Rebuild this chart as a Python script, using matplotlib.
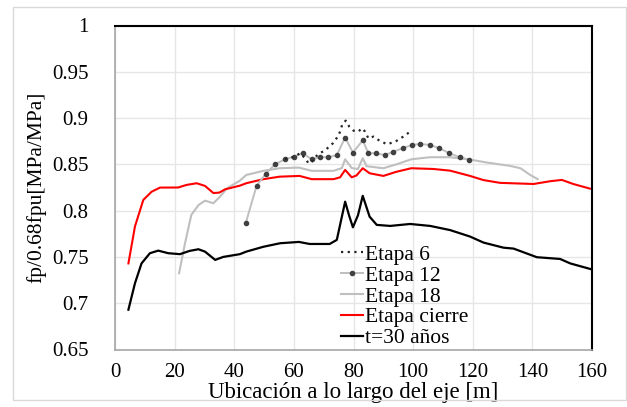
import matplotlib
matplotlib.use("Agg")
import matplotlib.pyplot as plt
from matplotlib.patches import Rectangle

# ---- data ----
x_e6 = [57.0, 60.1, 62.1, 64.1, 64.9, 66.0, 67.0, 68.8, 70.9, 73.1, 75.1, 76.3, 77.4,
        78.6, 80.0, 81.6, 82.8, 83.9, 85.0, 86.7, 88.4, 91.2, 94.0, 96.7, 99.0]
y_e6 = [0.8555, 0.8583, 0.862, 0.8555, 0.851, 0.853, 0.8577, 0.862, 0.8664, 0.8728, 0.8817,
        0.8936, 0.8972, 0.8907, 0.8864, 0.8853, 0.889, 0.8853, 0.878, 0.880, 0.8763, 0.8717,
        0.8745, 0.880, 0.8853]

x_e12 = [43.9, 47.5, 50.6, 53.7, 57.0, 60.1, 62.9, 66.0, 68.8, 71.6, 74.4, 77.2, 79.8,
         83.1, 85.0, 87.6, 90.4, 93.4, 96.5, 99.6, 102.3, 105.7, 108.8, 112.2, 115.6, 118.9]
y_e12 = [0.787, 0.827, 0.840, 0.850, 0.8555, 0.8583, 0.862, 0.8555, 0.8577, 0.8577, 0.860,
         0.879, 0.8627, 0.876, 0.862, 0.862, 0.860, 0.8637, 0.8674, 0.871, 0.872, 0.871,
         0.8674, 0.862, 0.8577, 0.855]

x_e18 = [21.5, 23.5, 25.6, 28.0, 30.2, 33.0, 35.2, 37.5, 41.9, 44.0, 49.8, 55.2, 61.7, 66.0,
         73.3, 76.1, 77.2, 79.4, 81.5, 83.1, 84.4, 90.0, 94.4, 99.4, 105.7, 112.4, 119.0,
         124.7, 132.6, 136.0, 139.3, 141.8]
y_e18 = [0.7324, 0.765, 0.7954, 0.806, 0.8108, 0.808, 0.815, 0.824, 0.8324, 0.8385, 0.843,
         0.8458, 0.8465, 0.843, 0.843, 0.846, 0.8555, 0.846, 0.845, 0.8566, 0.848, 0.8458,
         0.850, 0.8555, 0.8577, 0.8577, 0.8552, 0.852, 0.8483, 0.8458, 0.8385, 0.834]

x_cie = [4.5, 6.7, 9.5, 12.3, 15.1, 21.2, 24.0, 27.4, 30.2, 33.0, 35.0, 36.9, 41.9, 44.0,
         49.8, 55.2, 61.9, 66.0, 73.3, 75.5, 77.2, 79.4, 81.0, 83.1, 85.4, 90.0, 94.4, 99.4,
         106.8, 112.4, 119.1, 123.6, 129.2, 140.4, 146.0, 149.9, 153.7, 159.3]
y_cie = [0.743, 0.783, 0.8116, 0.8205, 0.8249, 0.825, 0.8278, 0.8296, 0.8267, 0.819, 0.8195,
         0.823, 0.827, 0.8296, 0.834, 0.8367, 0.8375, 0.834, 0.834, 0.836, 0.844, 0.836,
         0.838, 0.8458, 0.8404, 0.8375, 0.842, 0.8458, 0.845, 0.8432, 0.8375, 0.833, 0.830,
         0.8288, 0.8318, 0.8332, 0.8288, 0.8238]

x_t30 = [4.5, 6.7, 8.9, 11.7, 14.5, 17.9, 21.8, 25.0, 28.0, 30.2, 33.6, 36.3, 41.9, 44.0,
         49.8, 55.4, 61.7, 65.3, 72.0, 74.4, 76.1, 77.2, 78.5, 79.8, 81.5, 83.1, 85.4, 87.8,
         92.3, 99.0, 105.7, 112.4, 119.1, 123.6, 130.3, 133.7, 141.5, 149.3, 152.7, 159.4]
y_t30 = [0.693, 0.7216, 0.743, 0.754, 0.7568, 0.754, 0.753, 0.7565, 0.7583, 0.7557, 0.7468,
         0.750, 0.753, 0.7557, 0.761, 0.7648, 0.7662, 0.764, 0.764, 0.7684, 0.7935, 0.8097,
         0.795, 0.782, 0.795, 0.816, 0.7935, 0.7846, 0.7835, 0.7856, 0.7835, 0.779, 0.772,
         0.7655, 0.760, 0.759, 0.7497, 0.7478, 0.743, 0.737]

labels = ["Etapa 6", "Etapa 12", "Etapa 18", "Etapa cierre", "t=30 años"]
x_ticks = [0, 20, 40, 60, 80, 100, 120, 140, 160]
y_ticks = [0.65, 0.7, 0.75, 0.8, 0.85, 0.9, 0.95, 1.0]
y_ticklabels = ["0.65", "0.7", "0.75", "0.8", "0.85", "0.9", "0.95", "1"]

plt.rcParams['font.family'] = ['Liberation Serif', 'DejaVu Serif']

fig = plt.figure(figsize=(6.27, 4.07), dpi=100)
fig.patches.append(Rectangle((13 / 627, 1 - 400 / 407), (626 - 13) / 627, (400 - 7) / 407,
                             transform=fig.transFigure, fill=False, edgecolor='#d9d9d9',
                             linewidth=1.0, zorder=0))
ax = fig.add_axes([115 / 627, 1 - 349.5 / 407, (592 - 115) / 627, (349.5 - 25.5) / 407])

ax.plot(x_e6, y_e6, linestyle=(0, (1, 2.0)), color='#262626', linewidth=1.6, label=labels[0], zorder=4)
ax.plot(x_e12, y_e12, color='#bfbfbf', linewidth=1.4, marker='o', markersize=3.0,
        markerfacecolor='#404040', markeredgecolor='#404040', label=labels[1], zorder=3)
ax.plot(x_e18, y_e18, color='#bfbfbf', linewidth=1.5, label=labels[2], zorder=2)
ax.plot(x_cie, y_cie, color='#ff0000', linewidth=1.5, label=labels[3], zorder=2)
ax.plot(x_t30, y_t30, color='#000000', linewidth=1.6, label=labels[4], zorder=2)

ax.set_xlim(0, 160)
ax.set_ylim(0.65, 1.0)
ax.set_xticks(x_ticks)
ax.set_yticks(y_ticks)
ax.set_yticklabels(y_ticklabels)
ax.tick_params(axis='both', length=0, labelsize=15, colors='black')
ax.tick_params(axis='y', pad=19)
ax.tick_params(axis='x', pad=10)
ax.grid(True, color='#e6e6e6', linewidth=1.0, zorder=0)
ax.set_axisbelow(True)
for s in ['left', 'bottom']:
    ax.spines[s].set_color('#a6a6a6')
    ax.spines[s].set_linewidth(1.2)
for s in ['top', 'right']:
    ax.spines[s].set_color('#000000')
    ax.spines[s].set_linewidth(1.5)

ax.set_xlabel("Ubicación a lo largo del eje [m]", fontsize=16.5, labelpad=0)
ax.set_ylabel("fp/0.68fpu[MPa/MPa]", fontsize=15.5, labelpad=4)

leg = ax.legend(loc='lower left', bbox_to_anchor=(0.472, 0.0), frameon=False,
                fontsize=15.5, handlelength=1.0, handletextpad=0.1, labelspacing=0.04,
                borderpad=0.05, borderaxespad=0)

fig.savefig("out.png", dpi=100)
